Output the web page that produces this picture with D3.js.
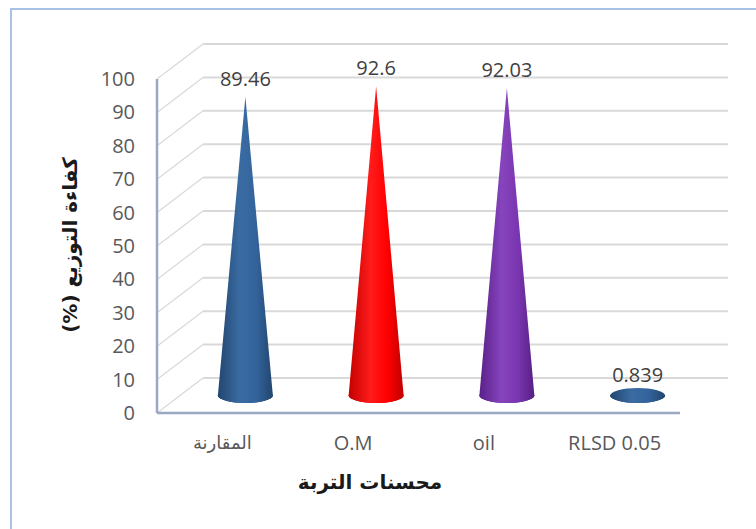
<!DOCTYPE html>
<html><head><meta charset="utf-8">
<script src="https://cdn.jsdelivr.net/npm/d3@7"></script>
<style>html,body{margin:0;padding:0;background:#fff;}svg{display:block;}</style>
</head><body>
<script>
const categories = ["المقارنة", "O.M", "oil", "RLSD 0.05"];
const values = [89.46, 92.6, 92.03, 0.839];
const valueLabels = ["89.46", "92.6", "92.03", "0.839"];
const colors = [
  ["#22466f", "#3a6ca3", "#33639a", "#22466f"],
  ["#c40000", "#ff1c1c", "#ff0000", "#c00000"],
  ["#5a2088", "#8644bd", "#7a36b0", "#571f85"],
  ["#22466f", "#3a6ca3", "#33639a", "#22466f"]
];
const yTicks = [0, 10, 20, 30, 40, 50, 60, 70, 80, 90, 100];
const yTitle = "كفاءة التوزيع (%)";
const xTitle = "محسنات التربة";

const W = 756, H = 529;
const svg = d3.select("body").append("svg").attr("width", W).attr("height", H);

// border
svg.append("rect").attr("x", 11).attr("y", 9).attr("width", W).attr("height", H)
  .attr("fill", "none").attr("stroke", "#a8c1e4").attr("stroke-width", 2);

const x0 = 157, x1 = 680;
const y = d3.scaleLinear().domain([0, 100]).range([413, 79]);
const x = d3.scaleBand().domain(categories).range([x0, x1]);
const DX = 46, DY = -35;

const defs = svg.append("defs");
colors.forEach((c, i) => {
  const g = defs.append("linearGradient").attr("id", "g" + i)
    .attr("x1", "0%").attr("x2", "100%").attr("y1", "0%").attr("y2", "0%");
  [0, 0.4, 0.7, 1].forEach((o, k) => g.append("stop").attr("offset", o).attr("stop-color", c[k]));
});

// back wall gridlines
const grid = svg.append("g");
yTicks.forEach(v => {
  grid.append("line").attr("x1", x0 + DX).attr("x2", x1 + DX + 2)
    .attr("y1", y(v) + DY).attr("y2", y(v) + DY)
    .attr("stroke", "#d9d9d9").attr("stroke-width", 2);
  grid.append("line").attr("x1", x0).attr("x2", x0 + DX)
    .attr("y1", y(v)).attr("y2", y(v) + DY)
    .attr("stroke", "#d9d9d9").attr("stroke-width", 1.2);
});

// axes (front)
svg.append("line").attr("x1", x0).attr("x2", x0).attr("y1", y(100)).attr("y2", y(0))
  .attr("stroke", "#9aa8c4").attr("stroke-width", 2.5);
svg.append("line").attr("x1", x0).attr("x2", x1).attr("y1", y(0)).attr("y2", y(0))
  .attr("stroke", "#9aa8c4").attr("stroke-width", 2.5);

// tick labels
svg.append("g").selectAll("text").data(yTicks).join("text")
  .attr("x", 135).attr("y", d => y(d)).attr("dy", "0.35em")
  .attr("text-anchor", "end").attr("fill", "#595959")
  .style("font-family", "'Open Sans', sans-serif").style("font-size", "20px")
  .text(d => d);

// cones
const rx = 27.5, ry = 7.5;
const cones = svg.append("g");
categories.forEach((c, i) => {
  const cx = x(c) + x.bandwidth() / 2 + DX / 2;
  const by = y(0) + DY / 2;
  const ty = y(values[i]) + DY / 2;
  cones.append("ellipse").attr("cx", cx).attr("cy", by).attr("rx", rx).attr("ry", ry)
    .attr("fill", `url(#g${i})`);
  cones.append("path")
    .attr("d", `M${cx - rx},${by} L${cx},${ty} L${cx + rx},${by} A${rx},${ry} 0 0 1 ${cx - rx},${by} Z`)
    .attr("fill", `url(#g${i})`);
  svg.append("text").attr("x", cx).attr("y", ty - 18).attr("dy", "0.35em")
    .attr("text-anchor", "middle").attr("fill", "#404040")
    .style("font-family", "'Open Sans', sans-serif").style("font-size", "20px")
    .text(valueLabels[i]);
  svg.append("text").attr("x", x(c) + x.bandwidth() / 2).attr("y", 443).attr("dy", "0.35em")
    .attr("text-anchor", "middle").attr("fill", "#595959")
    .style("font-family", i === 0 ? "'DejaVu Sans', sans-serif" : "'Open Sans', sans-serif")
    .style("font-size", i === 0 ? "18px" : "20px")
    .text(c);
});

// titles
svg.append("text").attr("transform", "translate(70,245) rotate(-90)")
  .attr("text-anchor", "middle").attr("dy", "0.35em").attr("fill", "#1a1a1a")
  .attr("direction", "rtl").style("unicode-bidi", "embed")
  .style("font-family", "'DejaVu Sans', sans-serif").style("font-size", "20px").style("font-weight", "bold")
  .text(yTitle);
svg.append("text").attr("x", 370).attr("y", 482).attr("dy", "0.35em")
  .attr("text-anchor", "middle").attr("fill", "#1a1a1a")
  .attr("direction", "rtl")
  .style("font-family", "'DejaVu Sans', sans-serif").style("font-size", "20px").style("font-weight", "bold")
  .text(xTitle);
</script>
</body></html>
